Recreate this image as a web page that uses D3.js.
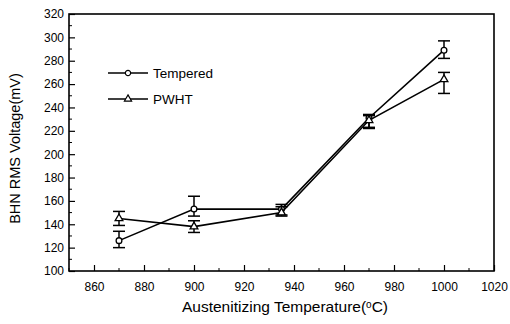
<!DOCTYPE html>
<html>
<head>
<meta charset="utf-8">
<script src="https://cdn.jsdelivr.net/npm/d3@7"></script>
<style>
  body { margin: 0; background: #fff; }
  svg { display: block; font-family: "Liberation Sans", Arial, sans-serif; }
</style>
</head>
<body>
<svg id="chart" width="510" height="324"></svg>
<script>
// data
const temps = [870, 900, 935, 970, 1000];
const tempered = [126, 153, 153, 231, 289];
const temperedLo = [120, 147, 148, 223, 282];
const temperedHi = [134, 164, 157, 234, 297];
const pwht = [145, 138, 150, 229, 264];
const pwhtLo = [139, 133, 147, 222, 252];
const pwhtHi = [151, 143, 155, 233, 270];

const xTicks = [860, 880, 900, 920, 940, 960, 980, 1000, 1020];
const yTicks = [100, 120, 140, 160, 180, 200, 220, 240, 260, 280, 300, 320];

const svg = d3.select("#chart");
const plot = { left: 69, right: 494, top: 14, bottom: 271 };

const x = d3.scaleLinear().domain([850, 1020]).range([plot.left, plot.right]);
const y = d3.scaleLinear().domain([100, 320]).range([plot.bottom, plot.top]);

// frame
svg.append("rect")
  .attr("x", plot.left).attr("y", plot.top)
  .attr("width", plot.right - plot.left).attr("height", plot.bottom - plot.top)
  .attr("fill", "none").attr("stroke", "#000").attr("stroke-width", 1.6);

// axes, ticks inward
const xAxis = svg.append("g").attr("transform", `translate(0,${plot.bottom})`)
  .call(d3.axisBottom(x).tickValues(xTicks).tickSize(-6).tickPadding(11).tickFormat(d3.format("d")));
const yAxis = svg.append("g").attr("transform", `translate(${plot.left},0)`)
  .call(d3.axisLeft(y).tickValues(yTicks).tickSize(-6).tickPadding(5).tickFormat(d3.format("d")));
[xAxis, yAxis].forEach((g) => {
  g.select(".domain").remove();
  g.selectAll("line").attr("stroke", "#000").attr("stroke-width", 1.2);
  g.selectAll("text").attr("fill", "#000").style("font-size", "12px").style("font-family", "Liberation Sans, Arial, sans-serif");
});

// minor ticks
svg.append("g").selectAll("line")
  .data(d3.range(850, 1020, 10).filter((d) => d % 20 !== 0))
  .join("line")
  .attr("x1", (d) => x(d)).attr("x2", (d) => x(d))
  .attr("y1", plot.bottom).attr("y2", plot.bottom - 3)
  .attr("stroke", "#000").attr("stroke-width", 1);
svg.append("g").selectAll("line")
  .data(d3.range(110, 320, 20))
  .join("line")
  .attr("x1", plot.left).attr("x2", plot.left + 3)
  .attr("y1", (d) => y(d)).attr("y2", (d) => y(d))
  .attr("stroke", "#000").attr("stroke-width", 1);

// axis titles
svg.append("text")
  .attr("x", 285).attr("y", 312)
  .attr("text-anchor", "middle").style("font-size", "15.5px")
  .html('Austenitizing Temperature(<tspan font-size="10" dy="-4">o</tspan><tspan dy="4">C)</tspan>');
svg.append("text")
  .attr("transform", `translate(20,${(plot.top + plot.bottom) / 2 + 6}) rotate(-90)`)
  .attr("text-anchor", "middle").style("font-size", "14.5px")
  .text("BHN RMS Voltage(mV)");

const line = d3.line().x((d) => x(d[0])).y((d) => y(d[1]));

function drawSeries(vals, lo, hi, shape) {
  const pts = temps.map((t, i) => [t, vals[i]]);
  svg.append("path").datum(pts).attr("d", line)
    .attr("fill", "none").attr("stroke", "#000").attr("stroke-width", 1.6);
  const eb = svg.append("g").attr("stroke", "#000").attr("stroke-width", 1.5);
  temps.forEach((t, i) => {
    eb.append("line").attr("x1", x(t)).attr("x2", x(t)).attr("y1", y(lo[i])).attr("y2", y(hi[i]));
    [lo[i], hi[i]].forEach((v) => {
      eb.append("line").attr("x1", x(t) - 6).attr("x2", x(t) + 6).attr("y1", y(v)).attr("y2", y(v));
    });
  });
  svg.append("g").selectAll("path").data(pts).join("path")
    .attr("transform", (d) => `translate(${x(d[0])},${y(d[1])})`)
    .attr("d", d3.symbol(shape, 26))
    .attr("fill", "#fff").attr("stroke", "#000").attr("stroke-width", 1.3);
}

drawSeries(tempered, temperedLo, temperedHi, d3.symbolCircle);
drawSeries(pwht, pwhtLo, pwhtHi, d3.symbolTriangle);

// legend
const legend = [
  { label: "Tempered", shape: d3.symbolCircle, yy: 73 },
  { label: "PWHT", shape: d3.symbolTriangle, yy: 99 }
];
legend.forEach((d) => {
  svg.append("line").attr("x1", 108).attr("x2", 148).attr("y1", d.yy).attr("y2", d.yy)
    .attr("stroke", "#000").attr("stroke-width", 1.4);
  svg.append("path").attr("transform", `translate(128,${d.yy})`)
    .attr("d", d3.symbol(d.shape, 22))
    .attr("fill", "#fff").attr("stroke", "#000").attr("stroke-width", 1.2);
  svg.append("text").attr("x", 153).attr("y", d.yy + 5)
    .style("font-size", "13.5px").text(d.label);
});
</script>
</body>
</html>
